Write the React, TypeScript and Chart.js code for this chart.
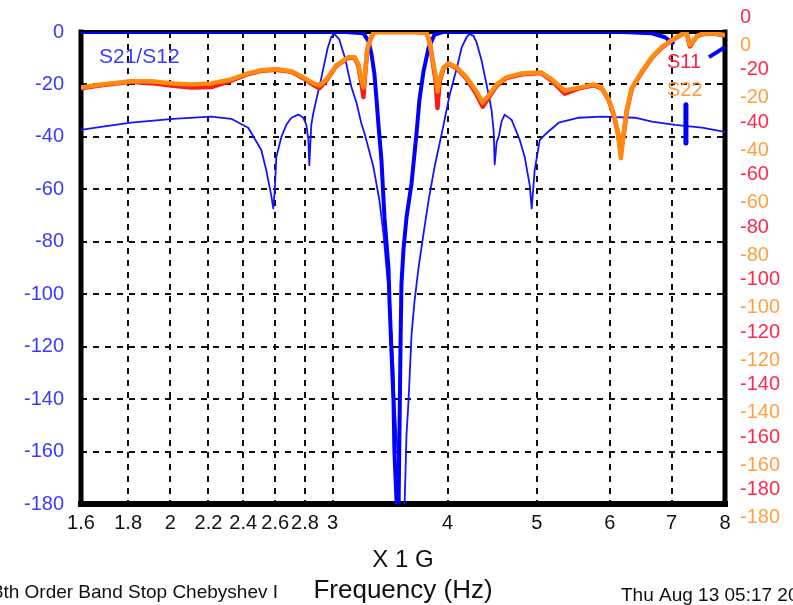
import React, { useEffect, useRef } from 'react';
import { Chart, registerables } from 'chart.js';

Chart.register(...registerables);

const FONT = 'Arial, "Liberation Sans", sans-serif';

// X axis (GHz, logarithmic)
const xTickValues = [1.6, 1.8, 2, 2.2, 2.4, 2.6, 2.8, 3, 4, 5, 6, 7, 8];
const xTickLabels = ['1.6', '1.8', '2', '2.2', '2.4', '2.6', '2.8', '3', '4', '5', '6', '7', '8'];

// S21 (thick blue)
const s21Freq = [1.6, 2.0, 2.6, 3.1, 3.241, 3.282, 3.307, 3.331, 3.348, 3.365, 3.39, 3.416, 3.45, 3.459, 3.476, 3.494, 3.502, 3.52, 3.529, 3.538, 3.547, 3.556, 3.564, 3.582, 3.609, 3.655, 3.701, 3.728, 3.766, 3.814, 3.842, 3.871, 3.95, 5.0, 6.2, 6.665, 6.885, 7.042, 7.3, 7.686, 8.0];
const s21Db = [0, 0, 0, 0, -0.5, -3.5, -8.5, -16, -25.4, -35.4, -48.8, -70.8, -90, -102.7, -121.9, -141, -160, -178.5, -186, -182, -150, -118, -96, -83, -70.8, -57.7, -38.5, -25.8, -15, -6, -3.5, -1, 0, 0, 0, -0.5, -2, -4.6, null, -9.6, -5.8];

// thin blue trace
const thinFreq = [1.6, 1.682, 1.813, 2.014, 2.215, 2.329, 2.43, 2.511, 2.542, 2.574, 2.587, 2.597, 2.607, 2.64, 2.673, 2.707, 2.754, 2.789, 2.81, 2.824, 2.831, 2.845, 2.86, 2.881, 2.918, 2.962, 2.99, 3.014, 3.05, 3.098, 3.122, 3.145, 3.185, 3.225, 3.249, 3.323, 3.373, 3.407, 3.433, 3.459, 3.476, 3.494, 3.502, 3.52, 3.538, 3.547, 3.591, 3.609, 3.627, 3.655, 3.682, 3.719, 3.766, 3.814, 3.871, 3.959, 4.02, 4.091, 4.142, 4.194, 4.226, 4.268, 4.3, 4.355, 4.432, 4.465, 4.488, 4.499, 4.521, 4.544, 4.578, 4.613, 4.694, 4.79, 4.85, 4.911, 4.935, 4.972, 5.035, 5.124, 5.28, 5.552, 5.88, 6.387, 6.665, 7.06, 7.553, 8.0];
const thinDb = [-37.3, -36.2, -34.6, -33.1, -32.3, -33.1, -36.5, -45, -52.7, -62.3, -67.3, -60, -47.7, -40, -35.4, -32.7, -31.5, -32.7, -35.4, -41, -50.8, -35.4, -30.8, -25.8, -17.3, -6.5, -1.9, -0.8, -2.7, -10.4, -16, -21, -27, -35, -38.5, -51.5, -64.2, -76.9, -90, -102.7, -115.4, -128.5, -141, -153.8, -166.9, -182, -182, -153.8, -141, -115.4, -102.7, -90, -76.9, -64.2, -51.5, -35.5, -24, -14, -6, -2, -0.8, -1.5, -4, -11, -24, -30, -38, -50.5, -42, -40, -34, -31.5, -33.5, -41.2, -47.7, -58.5, -67.3, -52.7, -41.2, -38.5, -34.6, -32.7, -32.3, -32.7, -34.2, -35.4, -36.5, -38.1];

// S11 / S22 (return loss)
const returnFreq = [1.6, 1.682, 1.813, 1.906, 2.014, 2.107, 2.215, 2.329, 2.43, 2.511, 2.607, 2.707, 2.789, 2.86, 2.903, 2.954, 3.029, 3.122, 3.169, 3.2, 3.225, 3.241, 3.257, 3.273, 3.298, 3.323, 3.34, 3.5, 3.7, 3.795, 3.823, 3.852, 3.88, 3.9, 3.92, 3.959, 4.01, 4.091, 4.194, 4.3, 4.366, 4.432, 4.521, 4.63, 4.813, 5.05, 5.189, 5.36, 5.552, 5.764, 5.88, 5.984, 6.06, 6.121, 6.167, 6.213, 6.26, 6.339, 6.5, 6.665, 6.83, 7.006, 7.184, 7.27, 7.329, 7.385, 7.459, 7.553, 7.75, 8.0];
const s22Db = [-21.2, -20, -18.8, -18.8, -19.6, -20, -19.6, -18.1, -15.8, -14.6, -14.2, -15, -17.3, -19.6, -20.4, -18.1, -12.7, -9.6, -9.6, -12.3, -18.1, -21.2, -14.2, -6.5, -2.7, -0.4, 0, 0, 0, -0.4, -3.5, -10.4, -16.2, -22.7, -18.1, -13.5, -11.9, -13.5, -17.3, -22.7, -26.9, -24.2, -20, -17.3, -15.8, -15.4, -18.1, -22.3, -21.2, -20, -21.2, -25.8, -31.5, -38.1, -48.1, -38.1, -29.6, -21.2, -15, -9.6, -5.8, -3.1, -0.8, -0.4, -5, -3.5, -1.5, -0.8, -0.4, -1.2];
const s11Db = [-21.5, -20.3, -19.0, -19.5, -20.5, -21.2, -21.0, -18.6, -16.0, -14.8, -14.4, -15.2, -17.6, -20.2, -21.4, -18.5, -12.9, -9.8, -9.8, -12.8, -19.5, -24.8, -14.5, -6.7, -2.8, -0.4, 0, 0, 0, -0.4, -3.6, -11, -18, -29, -19, -13.8, -12.1, -13.8, -17.8, -23.8, -28.5, -25, -20.5, -17.6, -16.1, -15.6, -18.6, -23.5, -21.5, -20.3, -21.5, -26, -31.8, -38.5, -46, -38.5, -30, -21.5, -15.3, -9.8, -6, -3.2, -0.9, -0.5, -5.5, -3.7, -1.6, -0.9, -0.5, -1.3];

// marker bar
const markerFreq = [7.256, 7.256];
const markerDb = [-27.7, -42.3];

const toPoints = (f: number[], d: (number | null)[]) => f.map((x, i) => ({ x, y: d[i] }));

const framePlugin = {
  id: 'frame',
  beforeDatasetsDraw(chart: any) {
    const { ctx, chartArea: a } = chart;
    const line = (x1: number, y1: number, x2: number, y2: number, w: number) => {
      ctx.lineWidth = w;
      ctx.beginPath();
      ctx.moveTo(x1, y1);
      ctx.lineTo(x2, y2);
      ctx.stroke();
    };
    ctx.save();
    ctx.strokeStyle = '#000';
    ctx.lineCap = 'square';
    line(a.left, a.top, a.right, a.top, 4);
    line(a.left, a.top, a.left, a.bottom, 5);
    line(a.right, a.top, a.right, a.bottom, 5);
    line(a.left, a.bottom, a.right, a.bottom, 6);
    ctx.restore();
  },
};

const textPlugin = {
  id: 'texts',
  afterDraw(chart: any) {
    const { ctx } = chart;
    ctx.save();
    ctx.textBaseline = 'middle';
    ctx.font = `21px ${FONT}`;
    ctx.fillStyle = '#3c3cff';
    ctx.textAlign = 'left';
    ctx.fillText('S21/S12', 99, 57);
    ctx.font = `20px ${FONT}`;
    ctx.fillStyle = '#ff2040';
    ctx.fillText('S11', 667, 62);
    ctx.fillStyle = '#ff9a40';
    ctx.fillText('S22', 667, 90);
    ctx.fillStyle = '#111';
    ctx.font = `26px ${FONT}`;
    ctx.textAlign = 'center';
    ctx.fillText('Frequency (Hz)', 403, 591);
    ctx.font = `19px ${FONT}`;
    ctx.textAlign = 'right';
    ctx.fillText('8th Order Band Stop Chebyshev I', 278, 593);
    ctx.textAlign = 'left';
    ctx.fillText('Thu Aug 13 05:17 2009', 621, 596);
    ctx.restore();
  },
};

export default function App() {
  const ref = useRef<HTMLCanvasElement>(null);
  useEffect(() => {
    document.body.style.margin = '0';
    document.body.style.overflow = 'hidden';
    const canvas = ref.current;
    if (!canvas) return;
    const tickFont = { family: FONT, size: 20 };
    const chart = new Chart(canvas, {
      type: 'line',
      data: {
        datasets: [
          { label: 'S22', data: toPoints(returnFreq, s22Db), borderColor: '#ff8a10', borderWidth: 4.5 },
          { label: 'S11', data: toPoints(returnFreq, s11Db), borderColor: '#ff1a1a', borderWidth: 4.5 },
          { label: 'S21', data: toPoints(s21Freq, s21Db), borderColor: '#0000ff', borderWidth: 4, spanGaps: false },
          { label: 'Marker', data: toPoints(markerFreq, markerDb), borderColor: '#0000ff', borderWidth: 5 },
          { label: 'S12', data: toPoints(thinFreq, thinDb), borderColor: '#1414ff', borderWidth: 1.8 },
        ] as any,
      },
      options: {
        responsive: false,
        animation: false,
        events: [],
        layout: { padding: { top: 32, left: 0, right: 0, bottom: 0 } },
        elements: { point: { radius: 0 }, line: { tension: 0, borderJoinStyle: 'round' } },
        plugins: { legend: { display: false }, tooltip: { enabled: false }, title: { display: false } },
        scales: {
          x: {
            type: 'logarithmic',
            position: 'bottom',
            min: 1.6,
            max: 8,
            afterBuildTicks: (s: any) => {
              s.ticks = xTickValues.map((v) => ({ value: v }));
            },
            afterFit: (s: any) => {
              s.height = 101;
            },
            ticks: {
              autoSkip: false,
              maxRotation: 0,
              minRotation: 0,
              padding: 7,
              color: '#111',
              font: tickFont,
              callback: (_v: any, i: number) => xTickLabels[i],
            },
            grid: { color: '#111', lineWidth: 2, drawTicks: false, tickLength: 0 },
            border: { display: false, dash: [6, 6] },
            title: {
              display: true,
              text: 'X 1 G',
              color: '#111',
              font: { family: FONT, size: 24 },
              padding: { top: 0, bottom: 30 },
            },
          },
          y: {
            type: 'linear',
            position: 'left',
            min: -180,
            max: 0,
            afterFit: (s: any) => {
              s.width = 81;
            },
            ticks: { stepSize: 20, padding: 17, color: '#3a3aff', font: tickFont },
            grid: { color: '#111', lineWidth: 2, drawTicks: false, tickLength: 0 },
            border: { display: false, dash: [6, 6] },
          },
          yS11: {
            type: 'linear',
            position: 'right',
            min: -180,
            max: 0,
            afterFit: (s: any) => {
              s.width = 0;
              // keep labels visible even though this axis takes no layout width
              s._computeLabelArea = () => undefined;
            },
            ticks: { autoSkip: false, stepSize: 20, padding: 15, labelOffset: -14.5, color: '#ff2a4a', font: tickFont },
            grid: { display: false, drawTicks: false, tickLength: 0 },
            border: { display: false },
          },
          yS22: {
            type: 'linear',
            position: 'right',
            min: -180,
            max: 0,
            afterFit: (s: any) => {
              s.width = 68;
            },
            ticks: { autoSkip: false, stepSize: 20, padding: 15, labelOffset: 13.5, color: '#ffa040', font: tickFont },
            grid: { display: false, drawTicks: false, tickLength: 0 },
            border: { display: false },
          },
        },
      } as any,
      plugins: [framePlugin, textPlugin],
    });
    return () => chart.destroy();
  }, []);
  return (
    <div style={{ width: 793, height: 605 }}>
      <canvas ref={ref} width={793} height={605} />
    </div>
  );
}
